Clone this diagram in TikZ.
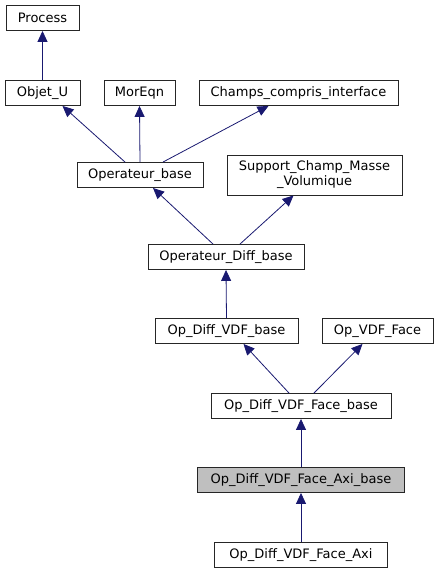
\documentclass[tikz,border=0pt]{standalone}
\usepackage{fontspec}
\newfontfamily\dejavu{DejaVu Sans}
\usetikzlibrary{arrows.meta}
\definecolor{doxyblue}{HTML}{191970}
\definecolor{doxygray}{HTML}{BFBFBF}
\tikzset{
    klasse/.style={draw=black!85, line width=0.9pt, fill=white, inner sep=0pt,
        minimum height=25pt, align=center, font=\dejavu\fontsize{13}{15}\selectfont},
    aktiv/.style={klasse, fill=doxygray},
    erbt/.style={draw=doxyblue, line width=0.8pt, -{Triangle[length=11pt,width=10pt]}}
}

\begin{document}
\begin{tikzpicture}[x=1pt, y=-1pt]
    \useasboundingbox (0,0) rectangle (438,575);

    % --- Basisklassen ---
    \node[klasse, minimum width=73pt] (process) at (42.5,18) {Process};
    \node[klasse, minimum width=75pt] (objet) at (42.5,93) {Objet\_U};
    \node[klasse, minimum width=71pt] (moreqn) at (139.5,93) {MorEqn};
    \node[klasse, minimum width=199pt] (champs) at (298.5,93) {Champs\_compris\_interface};

    % --- Operatoren ---
    \node[klasse, minimum width=126pt] (opbase) at (140,175) {Operateur\_base};
    \node[klasse, minimum width=175pt, minimum height=40pt] (support) at (314.5,175)
        {Support\_Champ\_Masse\\\_Volumique};
    \node[klasse, minimum width=156pt] (opdiff) at (226,257) {Operateur\_Diff\_base};
    \node[klasse, minimum width=143pt] (vdfbase) at (226.5,331) {Op\_Diff\_VDF\_base};
    \node[klasse, minimum width=111pt] (vdfface) at (377.5,331) {Op\_VDF\_Face};
    \node[klasse, minimum width=180pt] (facebase) at (301,406) {Op\_Diff\_VDF\_Face\_base};
    \node[aktiv, minimum width=207pt] (axibase) at (301,480) {Op\_Diff\_VDF\_Face\_Axi\_base};
    \node[klasse, minimum width=173pt] (axi) at (301,555) {Op\_Diff\_VDF\_Face\_Axi};

    % --- Vererbung ---
    \draw[erbt] (objet.north) -- (process.south);
    \draw[erbt] ([xshift=-15pt]opbase.north) -- ([xshift=20pt]objet.south);
    \draw[erbt] (opbase.north) -- (moreqn.south);
    \draw[erbt] ([xshift=23pt]opbase.north) -- ([xshift=-30pt]champs.south);
    \draw[erbt] ([xshift=-13pt]opdiff.north) -- ([xshift=13pt]opbase.south);
    \draw[erbt] ([xshift=14pt]opdiff.north) -- ([xshift=-21pt]support.south);
    \draw[erbt] (vdfbase.north) -- (opdiff.south);
    \draw[erbt] ([xshift=-12pt]facebase.north) -- ([xshift=17pt]vdfbase.south);
    \draw[erbt] ([xshift=13pt]facebase.north) -- ([xshift=-15pt]vdfface.south);
    \draw[erbt] (axibase.north) -- (facebase.south);
    \draw[erbt] (axi.north) -- (axibase.south);
\end{tikzpicture}
\end{document}
